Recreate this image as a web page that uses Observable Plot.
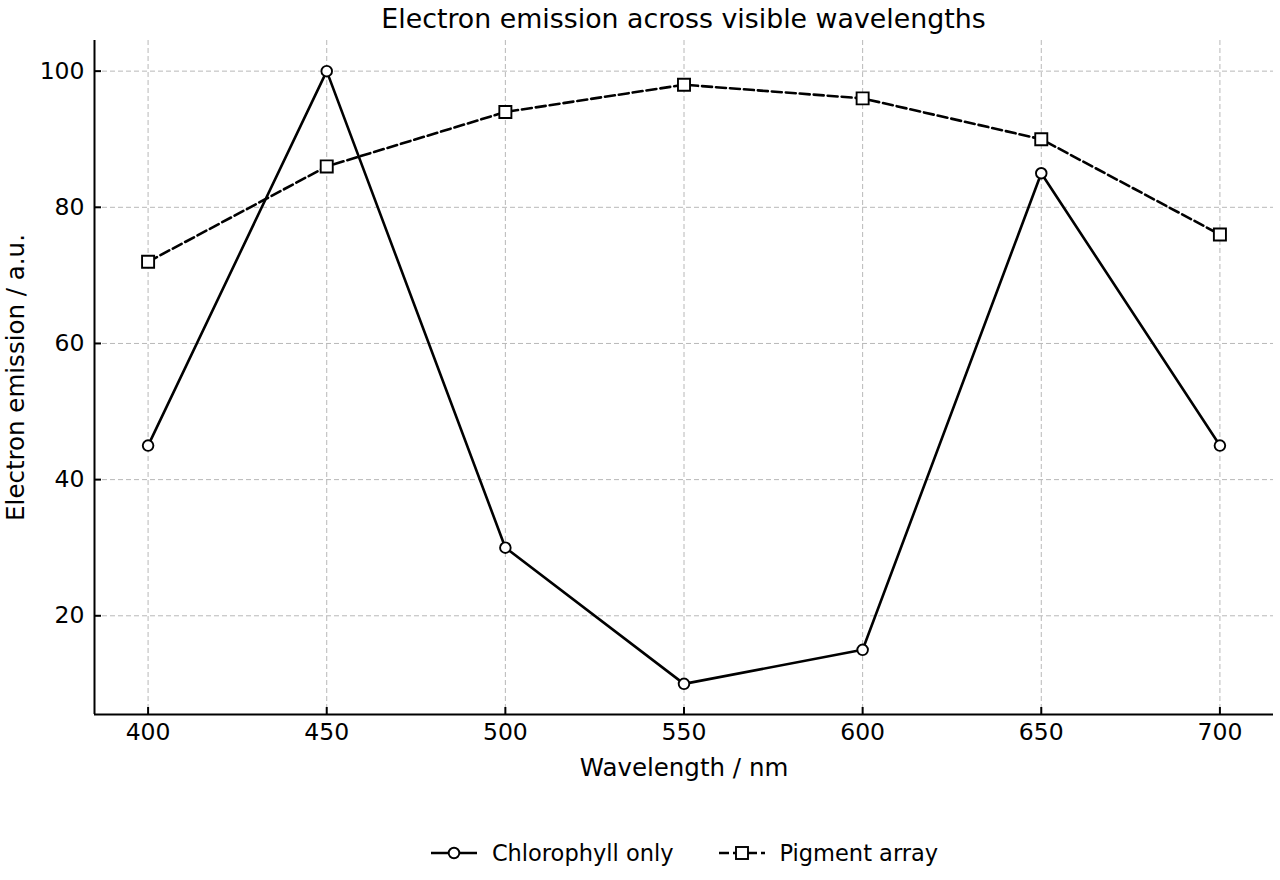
<!DOCTYPE html>
<html>
<head>
<meta charset="utf-8">
<script src="https://cdn.jsdelivr.net/npm/d3@7"></script>
<script src="https://cdn.jsdelivr.net/npm/@observablehq/plot@0.6"></script>
<style>
  html, body { margin: 0; padding: 0; background: white; }
  body { width: 1280px; height: 880px; position: relative; font-family: "DejaVu Sans", sans-serif; color: black; overflow: hidden; }
  #title { position: absolute; top: 0; left: 94px; width: 1179px; text-align: center; font-size: 26.8px; line-height: 38px; }
  #chart { position: absolute; top: 38px; left: 0; }
  #legend { position: absolute; top: 840px; left: 44px; width: 1280px; display: flex; justify-content: center; align-items: center; font-size: 22.5px; }
  .item { display: flex; align-items: center; margin: 0 22px; }
  .item svg { margin-right: 14px; }
</style>
</head>
<body>
<div id="title">Electron emission across visible wavelengths</div>
<div id="chart"></div>
<div id="legend"></div>
<script>
// Emission readings at each wavelength (nm)
const wavelengths = [400, 450, 500, 550, 600, 650, 700];
const chlorophyll = [45, 100, 30, 10, 15, 85, 45];
const pigment = [72, 86, 94, 98, 96, 90, 76];

// Axis ticks and scale extents
const xTicks = [400, 450, 500, 550, 600, 650, 700];
const yTicks = [20, 40, 60, 80, 100];
const xDomain = [385, 715];
const yDomain = [5.5, 104.5];

const seriesNames = ["Chlorophyll only", "Pigment array"];

const rows = wavelengths.map((w, i) => ({ w, chl: chlorophyll[i], pig: pigment[i] }));

const width = 1280, height = 770;
const marginLeft = 94, marginRight = 7, marginTop = 2, marginBottom = 94;
const innerW = width - marginLeft - marginRight;
const innerH = height - marginTop - marginBottom;
const grid = { stroke: "#b8b8b8", strokeOpacity: 1, strokeWidth: 1, strokeDasharray: "5,3" };

const chart = Plot.plot({
  width, height, marginLeft, marginRight, marginTop, marginBottom,
  x: { domain: xDomain },
  y: { domain: yDomain },
  style: { fontFamily: "DejaVu Sans", fontSize: "23.5px", color: "black", background: "white" },
  marks: [
    Plot.gridX(xTicks, grid),
    Plot.gridY(yTicks, grid),
    Plot.axisX(xTicks, { tickSize: 0, tickPadding: 9, fontSize: 23.5, label: null }),
    Plot.axisY(yTicks, { tickSize: 0, tickPadding: 10, fontSize: 23.5, label: null }),
    Plot.text(["Wavelength / nm"], { frameAnchor: "bottom", textAnchor: "middle", lineAnchor: "bottom", dy: 61, fontSize: 24.5 }),
    Plot.text(["Electron emission / a.u."], { frameAnchor: "left", textAnchor: "middle", lineAnchor: "middle", rotate: -90, dx: -78, fontSize: 24.5 }),
    // inward tick marks
    Plot.ruleX(xTicks, { stroke: "black", strokeWidth: 2, insetTop: innerH - 7 }),
    Plot.ruleY(yTicks, { stroke: "black", strokeWidth: 2, insetRight: innerW - 7 }),
    // left and bottom spines
    Plot.ruleX([xDomain[0]], { stroke: "black", strokeWidth: 2 }),
    Plot.ruleY([yDomain[0]], { stroke: "black", strokeWidth: 2 }),
    // series
    Plot.line(rows, { x: "w", y: "chl", stroke: "black", strokeWidth: 2.6 }),
    Plot.line(rows, { x: "w", y: "pig", stroke: "black", strokeWidth: 2.6, strokeDasharray: "10,4" }),
    Plot.dot(rows, { x: "w", y: "chl", r: 5.3, fill: "white", stroke: "black", strokeWidth: 1.9 }),
    Plot.dot(rows, { x: "w", y: "pig", symbol: "square", r: 6.8, fill: "white", stroke: "black", strokeWidth: 1.9 })
  ]
});
document.getElementById("chart").appendChild(chart);

// Legend below the chart
const legend = d3.select("#legend");
seriesNames.forEach((name, i) => {
  const item = legend.append("div").attr("class", "item");
  const s = item.append("svg").attr("width", 48).attr("height", 26);
  s.append("line").attr("x1", 1).attr("x2", 47).attr("y1", 13).attr("y2", 13)
    .attr("stroke", "black").attr("stroke-width", 2.6)
    .attr("stroke-dasharray", i === 1 ? "10,4" : null);
  if (i === 0) {
    s.append("circle").attr("cx", 24).attr("cy", 13).attr("r", 5.3)
      .attr("fill", "white").attr("stroke", "black").attr("stroke-width", 1.9);
  } else {
    s.append("rect").attr("x", 18).attr("y", 7).attr("width", 12).attr("height", 12)
      .attr("fill", "white").attr("stroke", "black").attr("stroke-width", 1.9);
  }
  item.append("span").text(name);
});
</script>
</body>
</html>
